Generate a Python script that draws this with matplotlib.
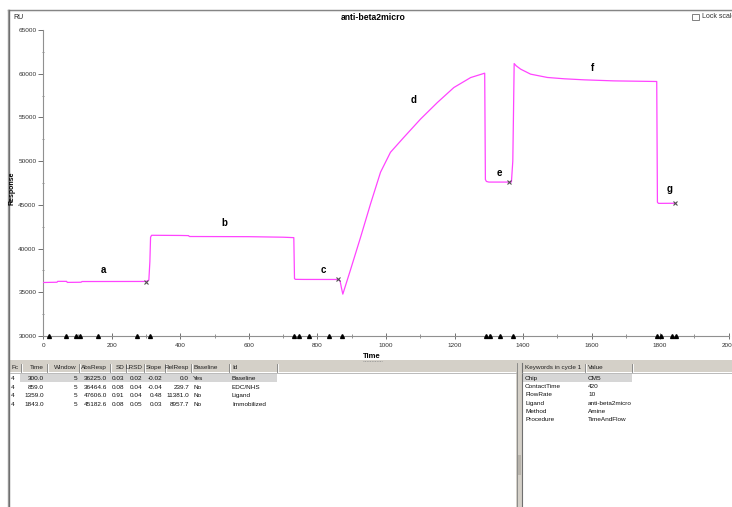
import matplotlib.pyplot as plt
from matplotlib.patches import Rectangle
from matplotlib.ticker import MultipleLocator

plt.rcParams['font.family'] = ['Liberation Sans', 'DejaVu Sans']

# sensorgram (time in s, response in RU)
time = [0, 40, 42, 68, 70, 110, 113, 300, 308, 311, 313, 316, 400, 424, 426, 600,
        700, 731, 733, 736, 760, 862, 866, 870, 874, 896, 926, 955, 984, 1013,
        1052, 1101, 1150, 1198, 1247, 1288, 1290, 1293, 1300, 1362, 1366, 1370,
        1372, 1374, 1380, 1393, 1422, 1471, 1520, 1578, 1665, 1790, 1792, 1795, 1845]
response = [36120, 36150, 36250, 36250, 36130, 36150, 36230, 36240, 36400, 38500,
            41300, 41520, 41500, 41480, 41380, 41360, 41300, 41250, 36550, 36480,
            36470, 36465, 36300, 35500, 34790, 37520, 41320, 45130, 48730, 51010,
            52720, 54820, 56710, 58420, 59560, 60060, 47900, 47680, 47606, 47606,
            47620, 50000, 55400, 61160, 60900, 60520, 59950, 59570, 59420, 59300,
            59180, 59110, 45300, 45170, 45183]

# report points
report_time = [300.0, 859.0, 1359.0, 1843.0]
abs_resp = [36225.0, 36464.6, 47606.0, 45182.6]
fc = [4, 4, 4, 4]
window = [5, 5, 5, 5]
sd = [0.03, 0.08, 0.91, 0.08]
lrsd = [0.02, 0.04, 0.04, 0.05]
slope = [-0.02, -0.04, 0.48, 0.03]
rel_resp = [0.0, 239.7, 11381.0, 8957.7]
baseline = ['Yes', 'No', 'No', 'No']
ids = ['Baseline', 'EDC/NHS', 'Ligand', 'Immobilized']

# event markers along the bottom
events = [16, 66, 96, 108, 159, 274, 311, 731, 745, 776, 835, 871,
          1291, 1303, 1334, 1371, 1790, 1803, 1834, 1847]

# segment letters
seg_letters = ['a', 'b', 'c', 'd', 'e', 'f', 'g']
seg_x = [176, 529, 817, 1081, 1331, 1602, 1828]
seg_y = [37520, 42960, 37520, 56980, 48700, 60700, 46840]

kw_names = ['Chip', 'ContactTime', 'FlowRate', 'Ligand', 'Method', 'Procedure']
kw_values = ['CM5', '420', '10', 'anti-beta2micro', 'Amine', 'TimeAndFlow']

W, H = 732, 507
fig = plt.figure(figsize=(W / 100, H / 100), dpi=100)
fig.patch.set_facecolor('white')

# window chrome in pixel coordinates
ui = fig.add_axes([0, 0, 1, 1], zorder=0)
ui.set_xlim(0, W)
ui.set_ylim(H, 0)
ui.axis('off')

grey = '#d4d0c8'
tfs = 4.6  # table font size
ui.plot([8, W], [10, 10], color='#808080', lw=1)
ui.plot([8, W], [11, 11], color='#e0e0e0', lw=0.8)
ui.plot([7.5, 7.5], [10, H], color='#a0a0a0', lw=1)
ui.plot([9, 9], [10, H], color='#707070', lw=1)

# splitter between chart and tables
ui.add_patch(Rectangle((9.5, 359.5), W - 9.5, 3.5, facecolor=grey, edgecolor='none'))
ui.plot([363, 382], [361.2, 361.2], color='#909090', lw=0.6, ls=(0, (1, 1)))

# left table
ui.add_patch(Rectangle((10, 363), 506, 9, facecolor=grey, edgecolor='none'))
ui.plot([10, 516], [372.5, 372.5], color='#a0a0a0', lw=0.5)
ui.add_patch(Rectangle((20, 374), 257, 8.3, facecolor='#d6d6d6', edgecolor='none'))
for xd in [21, 47, 79, 110, 126, 144, 165, 191, 229, 277]:
    ui.plot([xd, xd], [363.5, 372], color='#808080', lw=0.6)
    ui.plot([xd + 1, xd + 1], [363.5, 372], color='white', lw=0.6)

hy = 367.8
cols = [('Fc', 11, 'left'), ('Time', 44, 'right'), ('Window', 77, 'right'),
        ('AbsResp', 107, 'right'), ('SD', 124, 'right'), ('LRSD', 142, 'right'),
        ('Slope', 162, 'right'), ('RelResp', 189, 'right'), ('Baseline', 193, 'left'),
        ('Id', 232, 'left')]
for name, xc, ha in cols:
    ui.text(xc, hy, name, fontsize=tfs, ha=ha, va='center', color='#202020')

for i in range(len(report_time)):
    ry = 378.5 + i * 8.6
    vals = [str(fc[i]), f'{report_time[i]:.1f}', str(window[i]), f'{abs_resp[i]:.1f}',
            f'{sd[i]:.2f}', f'{lrsd[i]:.2f}', f'{slope[i]:.2f}', f'{rel_resp[i]:.1f}',
            baseline[i], ids[i]]
    for (name, xc, ha), v in zip(cols, vals):
        ui.text(xc, ry, v, fontsize=tfs, ha=ha, va='center', color='#101010')

# panel separator
ui.add_patch(Rectangle((516, 363), 6, H - 363, facecolor=grey, edgecolor='none'))
ui.plot([516.5, 516.5], [363, H], color='#808080', lw=0.6)
ui.plot([521.5, 521.5], [363, H], color='#707070', lw=0.8)
ui.add_patch(Rectangle((517.5, 455), 3, 20, facecolor='#b8b4ac', edgecolor='none'))

# right table
ui.add_patch(Rectangle((522, 363), W - 522, 9, facecolor=grey, edgecolor='none'))
ui.plot([522, W], [372.5, 372.5], color='#a0a0a0', lw=0.5)
ui.add_patch(Rectangle((522, 374), 110, 8.3, facecolor='#d6d6d6', edgecolor='none'))
for xd in [585, 632]:
    ui.plot([xd, xd], [363.5, 372], color='#808080', lw=0.6)
    ui.plot([xd + 1, xd + 1], [363.5, 372], color='white', lw=0.6)
ui.text(525, hy, 'Keywords in cycle 1', fontsize=tfs, ha='left', va='center', color='#202020')
ui.text(588, hy, 'Value', fontsize=tfs, ha='left', va='center', color='#202020')
for i, (k, v) in enumerate(zip(kw_names, kw_values)):
    ry = 378.5 + i * 8.2
    ui.text(525, ry, k, fontsize=tfs, ha='left', va='center', color='#101010')
    ui.text(588, ry, v, fontsize=tfs, ha='left', va='center', color='#101010')

# header texts of the chart
ui.text(18, 17.5, 'RU', fontsize=5, ha='center', va='center', color='#202020')
ui.text(373, 17, 'anti-beta2micro', fontsize=6.2, fontweight='bold', ha='center', va='center')
ui.add_patch(Rectangle((692, 13.5), 6.5, 6.5, facecolor='white', edgecolor='#808080', lw=0.7))
ui.text(702, 17, 'Lock scale', fontsize=5, ha='left', va='center', color='#303030')
ui.text(12, 188, 'Response', fontsize=5, fontweight='bold', rotation=90, ha='center', va='center')
ui.text(372, 356.5, 'Time', fontsize=5.5, fontweight='bold', ha='center', va='center')

# sensorgram axes
ax = fig.add_axes([43.3 / W, 1 - 336 / H, (728.7 - 43.3) / W, (336 - 30) / H], zorder=1)
ax.patch.set_visible(False)
ax.plot(time, response, color='#ff44ff', lw=0.9, zorder=3)
ax.plot(report_time, abs_resp, ls='none', marker='x', ms=3.2, mew=0.8, color='#505050', zorder=4)
ax.plot(events, [30000] * len(events), ls='none', marker='^', ms=2.8, color='black',
        clip_on=False, zorder=4)
for s, xs, ys in zip(seg_letters, seg_x, seg_y):
    ax.text(xs, ys, s, fontsize=7, fontweight='bold', ha='center', va='center')

ax.set_xlim(0, 2000)
ax.set_ylim(30000, 65000)
ax.xaxis.set_major_locator(MultipleLocator(200))
ax.xaxis.set_minor_locator(MultipleLocator(100))
ax.yaxis.set_major_locator(MultipleLocator(5000))
ax.yaxis.set_minor_locator(MultipleLocator(2500))
for side in ['top', 'right']:
    ax.spines[side].set_visible(False)
for side in ['left', 'bottom']:
    ax.spines[side].set_color('#909090')
    ax.spines[side].set_linewidth(0.8)
ax.tick_params(axis='x', which='major', direction='inout', length=5, width=0.7,
               colors='#707070', labelcolor='#303030', labelsize=4.6, pad=2.5)
ax.tick_params(axis='x', which='minor', direction='inout', length=2.5, width=0.6, colors='#808080')
ax.tick_params(axis='y', which='major', direction='out', length=3.5, width=0.7,
               colors='#707070', labelcolor='#303030', labelsize=4.6, pad=1.5)
ax.tick_params(axis='y', which='minor', direction='inout', length=1.5, width=0.6, colors='#808080')

fig.savefig('out.png', dpi=100, facecolor='white')
